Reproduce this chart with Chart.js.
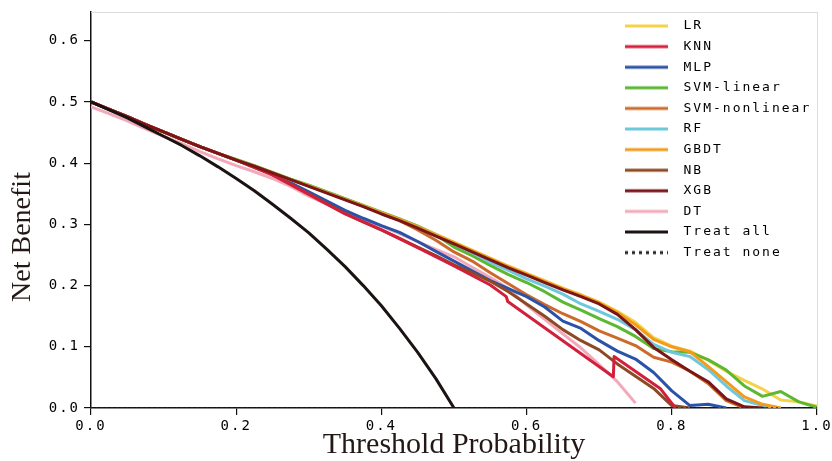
<!DOCTYPE html>
<html><head><meta charset="utf-8">
<script src="https://cdn.jsdelivr.net/npm/chart.js@4.4.0/dist/chart.umd.min.js"></script>
<style>html,body{margin:0;padding:0;background:#fff;}#wrap{width:832px;height:461px;}</style>
</head><body><div id="wrap"><canvas id="c" width="832" height="461"></canvas></div>
<script>
// ---------- data ----------
const thresholds = [0,0.025,0.05,0.075,0.1,0.125,0.15,0.175,0.2,0.225,0.25,0.275,0.3,0.325,0.35,0.375,0.4,0.425,0.45,0.475,0.5,0.525,0.55,0.575,0.6,0.625,0.65,0.675,0.7,0.725,0.75,0.775,0.8,0.825,0.85,0.875,0.9,0.925,0.95,0.975,1];
const lr     = [.500,.488,.476,.463,.451,.439,.427,.416,.406,.396,.385,.374,.364,.353,.342,.331,.320,.309,.297,.284,.271,.258,.245,.232,.220,.208,.196,.185,.173,.158,.140,.115,.101,.093,.078,.060,.045,.031,.013,.010,.003];
const mlp    = [.500,.488,.476,.463,.451,.439,.427,.416,.405,.394,.382,.368,.353,.338,.323,.310,.298,.287,.272,.256,.240,.224,.208,.195,.182,.165,.142,.130,.110,.093,.080,.058,.028,.004,.006,0,null,null,null,null,null];
const svmLin = [.500,.488,.476,.463,.451,.439,.427,.416,.406,.396,.385,.374,.364,.353,.342,.331,.320,.309,.297,.283,.263,.249,.233,.218,.205,.190,.173,.160,.146,.133,.117,.097,.092,.091,.079,.062,.036,.019,.027,.010,.001];
const svmNon = [.500,.488,.476,.463,.451,.439,.427,.416,.405,.395,.384,.373,.363,.352,.341,.330,.318,.306,.291,.274,.255,.240,.221,.203,.185,.169,.154,.141,.126,.114,.102,.083,.075,.060,.040,.012,0,null,null,null,null];
const rf     = [.500,.488,.476,.463,.451,.439,.427,.416,.405,.395,.384,.373,.363,.352,.341,.330,.319,.308,.296,.283,.269,.254,.238,.225,.211,.199,.186,.170,.158,.145,.128,.104,.091,.084,.063,.036,.012,.004,0,null,null];
const gbdt   = [.500,.488,.476,.463,.451,.439,.427,.416,.405,.395,.384,.373,.363,.352,.341,.330,.319,.308,.296,.283,.270,.257,.244,.231,.219,.207,.195,.184,.172,.156,.136,.112,.100,.092,.068,.043,.018,.006,0,null,null];
const nb     = [.500,.488,.476,.463,.451,.439,.427,.416,.405,.393,.381,.366,.350,.334,.318,.304,.291,.277,.263,.249,.234,.221,.207,.190,.170,.150,.128,.110,.095,.072,.052,.032,.004,0,null,null,null,null,null,null,null];
const xgb    = [.500,.488,.476,.463,.451,.439,.427,.416,.405,.395,.384,.373,.362,.351,.340,.329,.317,.306,.294,.281,.268,.255,.242,.229,.217,.205,.193,.182,.170,.153,.128,.099,.079,.060,.043,.015,.002,0,null,null,null];
const dt     = [.492,.481,.469,.456,.444,.432,.419,.407,.396,.386,.375,.362,.346,.333,.319,.308,.297,.285,.272,.259,.247,.230,.213,.195,.168,.145,.121,.098,.071,.043,.008,null,null,null,null,null,null,null,null,null,null];
const treatAll = [.500,.487,.474,.459,.444,.429,.412,.394,.375,.355,.333,.310,.286,.259,.231,.200,.167,.130,.091,.048,0,null,null,null,null,null,null,null,null,null,null,null,null,null,null,null,null,null,null,null,null];
const knnThresholds = [0,0.05,0.1,0.15,0.2,0.25,0.3,0.35,0.4,0.45,0.5,0.55,0.572,0.574,0.7195,0.7205,0.784,0.805];
const knn           = [.500,.476,.451,.427,.405,.381,.349,.317,.291,.262,.232,.201,.182,.174,.051,.084,.032,0];
const noneThresholds = [0,1];
const treatNone      = [0,0];
const xTicks = [0,0.2,0.4,0.6,0.8,1.0];
const yTicks = [0,0.1,0.2,0.3,0.4,0.5,0.6];

// ---------- build ----------
const pts = (xs, ys) => xs.map((x,i)=>({x:x, y:ys[i]}));
const series = [
  {label:'LR',            xs:thresholds, ys:lr,     color:'#f3d34a', order:10},
  {label:'KNN',           xs:knnThresholds, ys:knn, color:'#d21f3c', order:3},
  {label:'MLP',           xs:thresholds, ys:mlp,    color:'#2a52a8', order:8},
  {label:'SVM-linear',    xs:thresholds, ys:svmLin, color:'#5cb831', order:6},
  {label:'SVM-nonlinear', xs:thresholds, ys:svmNon, color:'#cc6a2c', order:9},
  {label:'RF',            xs:thresholds, ys:rf,     color:'#6dc8dc', order:5},
  {label:'GBDT',          xs:thresholds, ys:gbdt,   color:'#f39c1c', order:4},
  {label:'NB',            xs:thresholds, ys:nb,     color:'#8b4a24', order:7},
  {label:'XGB',           xs:thresholds, ys:xgb,    color:'#7a1518', order:2},
  {label:'DT',            xs:thresholds, ys:dt,     color:'#f4a9ba', order:11},
  {label:'Treat all',     xs:thresholds, ys:treatAll, color:'#1b1311', order:0},
  {label:'Treat none',    xs:noneThresholds, ys:treatNone, color:'#222222', order:1, dash:[2,3], width:1.5}
];

function swatch(color, dash){
  const c = document.createElement('canvas');
  c.width = 52; c.height = 8;
  const g = c.getContext('2d');
  g.strokeStyle = color; g.lineWidth = 3;
  if (dash) g.setLineDash([3,4]);
  g.beginPath(); g.moveTo(0,4); g.lineTo(43,4); g.stroke();
  return c;
}
const swatches = series.map(s => swatch(s.color, s.dash));

const datasets = series.map(s => ({
  label: s.label,
  data: pts(s.xs, s.ys),
  borderColor: s.color,
  backgroundColor: s.color,
  borderWidth: s.width || 3,
  borderDash: s.dash || [],
  borderJoinStyle: 'round',
  pointRadius: 0,
  tension: 0,
  fill: false,
  spanGaps: false,
  order: s.order
}));

function patchTitle(scale, dy){
  if (scale._titlePatched) return;
  scale._titlePatched = true;
  const proto = Object.getPrototypeOf(scale);
  scale.drawTitle = function(){
    const ctx = this.ctx;
    ctx.save();
    ctx.letterSpacing = '0px';
    ctx.translate(0, dy);
    proto.drawTitle.call(this);
    ctx.restore();
  };
}

const spacingPlugin = {
  id: 'spacing',
  beforeDraw(chart){ chart.ctx.letterSpacing = '2px'; }
};
const legendPlace = {
  id: 'legendPlace',
  afterLayout(chart){
    const lg = chart.legend;
    if (!lg) return;
    lg.left = 617.4; lg.top = 11.9; lg.right = 832; lg.bottom = 461;
  }
};

const tickFont = {family:'"DejaVu Sans Mono", monospace', size:14};

new Chart(document.getElementById('c'), {
  type: 'line',
  data: { datasets },
  plugins: [spacingPlugin, legendPlace],
  options: {
    responsive: false,
    animation: false,
    devicePixelRatio: 1,
    layout: { padding: {left:0, right:15, top:12, bottom:0} },
    plugins: {
      tooltip: {enabled:false},
      legend: {
        position: 'chartArea',
        align: 'start',
        labels: {
          usePointStyle: true,
          pointStyleWidth: 52,
          padding: 7.6,
          color: '#000',
          font: {family:'"DejaVu Sans Mono", monospace', size:13},
          sort: (a,b) => a.datasetIndex - b.datasetIndex,
          generateLabels(chart){
            const items = Chart.defaults.plugins.legend.labels.generateLabels(chart);
            items.forEach(it => { it.pointStyle = swatches[it.datasetIndex]; });
            return items;
          }
        }
      }
    },
    scales: {
      x: {
        type: 'linear', position: 'bottom', min: 0, max: 1,
        afterBuildTicks(s){ s.ticks = xTicks.map(v => ({value:v})); },
        ticks: { font: tickFont, color:'#000', padding:3, maxRotation:0, autoSkip:false,
                 callback: v => Number(v).toFixed(1) },
        grid: { display:true, drawOnChartArea:false, drawTicks:true, tickLength:7, color:'#111', lineWidth:1.2 },
        border: { display:true, color:'#111', width:1.5 },
        title: { display:true, text:'Threshold Probability', color:'#231815',
                 font:{family:'"Liberation Serif", "Times New Roman", serif', size:30, lineHeight:1},
                 padding:{top:0, bottom:1} },
        afterFit(s){ s.height = 53; s.paddingLeft = 0; s.paddingRight = 0; patchTitle(s, 0); }
      },
      y: {
        type: 'linear', position: 'left', min: 0, max: 0.647,
        afterBuildTicks(s){ s.ticks = yTicks.map(v => ({value:v})); },
        ticks: { font: tickFont, color:'#000', padding:4,
                 callback: v => Number(v).toFixed(1) },
        grid: { display:true, drawOnChartArea:false, drawTicks:true, tickLength:7, color:'#111', lineWidth:1.2 },
        border: { display:true, color:'#111', width:1.5 },
        title: { display:true, text:'Net Benefit', color:'#231815',
                 font:{family:'"Liberation Serif", "Times New Roman", serif', size:28, lineHeight:1},
                 padding:{top:9, bottom:0} },
        afterFit(s){ s.width = 91; s.paddingTop = 0; s.paddingBottom = 0; patchTitle(s, 27); }
      },
      xTop: {
        type:'linear', position:'top', min:0, max:1,
        ticks:{display:false}, grid:{display:false, drawTicks:false},
        border:{display:true, color:'#dcdcdc', width:1},
        afterFit(s){ s.height = 0; s.paddingLeft = 0; s.paddingRight = 0; }
      },
      yRight: {
        type:'linear', position:'right', min:0, max:1,
        ticks:{display:false}, grid:{display:false, drawTicks:false},
        border:{display:true, color:'#dcdcdc', width:1},
        afterFit(s){ s.width = 0; s.paddingTop = 0; s.paddingBottom = 0; }
      }
    }
  }
});
</script>
</body></html>
